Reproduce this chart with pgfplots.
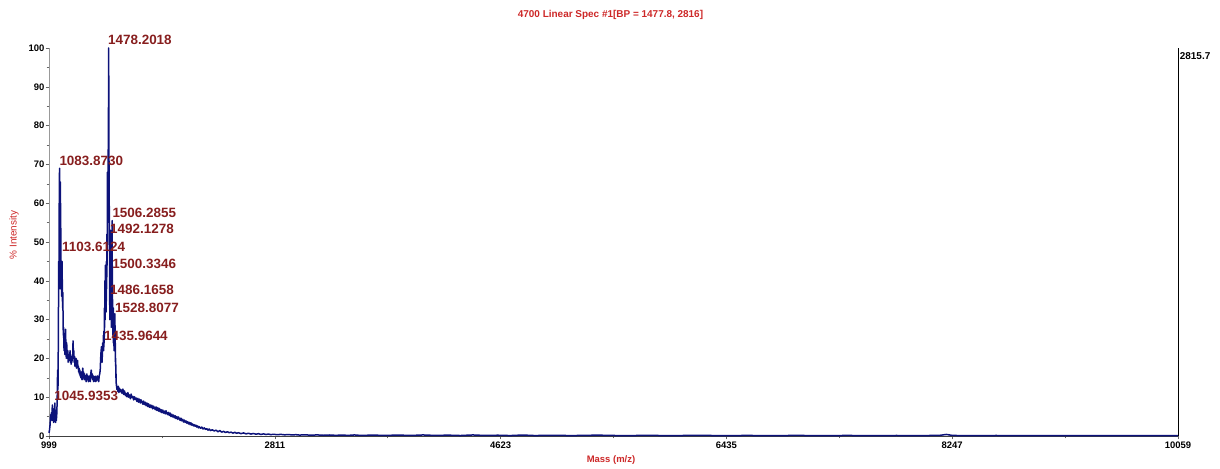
\documentclass[border=0pt]{standalone}
\usepackage{fontspec}
\setmainfont{Liberation Sans}
\usepackage{pgfplots}
\pgfplotsset{compat=1.18}
\definecolor{spec}{RGB}{12,18,122}
\definecolor{pklab}{RGB}{135,30,30}
\definecolor{ttl}{RGB}{205,40,40}
\begin{document}
\begin{tikzpicture}
\useasboundingbox (0,0) rectangle (1220bp,469bp);
\begin{axis}[
  at={(49bp,33bp)}, anchor=south west,
  scale only axis, width=1129bp, height=388bp,
  xmin=999, xmax=10059, ymin=0, ymax=100,
  clip=false,
  axis x line*=bottom, axis y line*=left,
  x axis line style={draw=black!75, -},
  y axis line style={draw=black!40, -},
  xtick={999,2811,4623,6435,8247,10059},
  xticklabels={999,2811,4623,6435,8247,10059},
  minor xtick={1905,3717,5529,7341,9153},
  ytick={0,10,...,100},
  minor ytick={5,15,...,95},
  tick align=outside,
  major tick length=3.5bp, minor tick length=2.5bp,
  tick style={draw=black!60, line width=0.5bp},
  /pgf/number format/assume math mode=true,
  tick label style={font=\fontsize{9.5}{10}\selectfont\bfseries, inner sep=1bp},
  xticklabel style={yshift=-1bp},
  scaled x ticks=false,
]
\addplot[spec, line width=1.5bp, line join=round] coordinates {
(999,0.8)(1003,1.5)(1008,3)(1012,5.5)(1015,4)(1019,6)(1022,5)(1026,8)(1029,4)(1033,7)(1036,3.5)(1040,4)(1043,6)(1046,8.5)(1049,4)(1052,3.5)(1055,5)(1058,4)(1062,6)(1065,10)(1068,17)(1071,12)(1074,25)(1077,45)(1079,38)(1080,60)(1081,52)(1082,66)(1084,69)(1085,42)(1086,50)(1087,38)(1088,48)(1089,58)(1090,65.5)(1091,50)(1092,60)(1094,50)(1096,38)(1098,41)(1100,36)(1102,44)(1104,45)(1106,38)(1108,33)(1110,37)(1112,30)(1114,26)(1116,28)(1118,24)(1120,22)(1123,26)(1126,21)(1129,23)(1132,27.5)(1135,22)(1138,20)(1141,24)(1144,21)(1147,20)(1150,22)(1153,19)(1156,21)(1159,19.5)(1162,21)(1165,20)(1168,22)(1171,19)(1174,20.5)(1177,18.5)(1180,20)(1183,19)(1186,21)(1189,20)(1192,24.5)(1195,21)(1198,22)(1201,19)(1204,20.5)(1207,18)(1210,20)(1213,19)(1216,20)(1219,17.5)(1222,19)(1225,18)(1228,19.5)(1231,17.5)(1234,18)(1237,16.5)(1240,17.5)(1243,16)(1246,17)(1249,15.5)(1252,16)(1255,15)(1258,16.5)(1261,15)(1264,14.5)(1267,16)(1270,17.5)(1273,15)(1276,16.5)(1279,15)(1282,14.5)(1285,16)(1288,15)(1291,14.5)(1294,15.5)(1297,14)(1300,15)(1303,16)(1306,15)(1309,14.5)(1312,15.5)(1315,14)(1318,15)(1321,14.5)(1324,15)(1327,15.5)(1330,14)(1334,16)(1338,17)(1342,15)(1346,16)(1350,14.5)(1354,15.5)(1358,14)(1362,15)(1366,14.2)(1370,15.4)(1374,14)(1378,15)(1382,14.3)(1386,15.5)(1390,14.5)(1394,15.2)(1398,14)(1402,15.5)(1406,16)(1410,17)(1415,21)(1420,23)(1425,19)(1430,24)(1433,22)
(1436,26)(1438,22)(1440,27)(1442,24)(1444,33)(1446,28)(1448,40)(1450,30)(1452,44)(1454,35)(1456,42)(1458,32)(1460,45)(1462,38)(1464,52)(1466,44)(1468,68)(1470,55)(1472,66)(1474,72)(1476,80)(1477,90)(1478,100)(1479,85)(1480,81)(1481,60)(1482,70)(1483,48)(1484,55)(1485,40)(1486,37.5)(1487,30)(1488,45)(1489,35)(1490,50)(1491,40)(1492,53)(1493,38)(1494,47)(1495,35)(1496,40)(1497,30)(1498,35)(1499,28)(1500,44)(1501,32)(1502,38)(1503,30)(1504,50)(1505,38)(1506,55.5)(1507,35)(1508,42)(1509,30)(1510,35)(1512,26)(1513,30)(1515,24)(1516,33)(1518,24)(1519,28)(1521,22)(1522,26)(1524,22)(1525,29)(1527,24)(1528,31.5)(1530,22)(1531,24)(1533,18)(1534,20)(1536,15)(1537,16)(1539,13)(1540,13.5)(1544,12)(1548,12.5)(1552,11.5)(1556,12.8)(1560,11.2)
(1565,12.3)(1572,11.4)(1578,11.9)(1585,11.0)(1592,12.1)(1598,10.7)(1605,11.6)(1612,10.4)(1618,11.0)(1625,10.1)(1632,11.2)(1638,10.0)(1645,10.6)(1652,9.6)(1658,10.8)(1665,9.9)(1672,10.2)(1678,9.3)(1685,10.1)(1692,9.4)(1698,9.8)(1705,8.9)(1712,9.7)(1718,8.7)(1725,9.5)(1732,8.5)(1738,9.3)(1745,8.8)(1752,8.2)(1758,9.0)(1765,8.1)(1772,8.7)(1778,7.8)(1785,8.5)(1792,7.6)(1798,8.3)(1805,7.4)(1812,8.0)(1818,7.3)(1825,7.9)(1832,7.0)(1838,7.7)(1845,7.2)(1852,6.8)(1858,7.5)(1865,6.6)(1872,7.3)(1878,6.4)(1885,7.1)(1892,6.2)(1898,6.8)(1905,6.0)(1912,6.7)(1918,5.9)(1925,6.4)(1932,5.7)(1938,6.5)(1945,5.8)(1952,5.5)(1958,6.1)(1965,5.3)(1972,5.9)(1978,5.0)(1985,5.6)(1992,4.9)(1998,5.4)(2005,4.7)(2012,5.2)(2018,4.5)(2025,5.0)(2032,4.3)(2038,4.9)(2045,4.4)(2052,4.0)(2058,4.6)(2065,3.9)(2072,4.3)(2078,3.6)(2085,4.1)(2092,3.5)(2098,3.9)(2105,3.3)(2112,3.7)(2118,3.1)(2125,3.5)(2132,2.9)(2138,3.4)(2145,2.8)(2152,3.1)(2158,2.6)(2165,2.9)(2172,2.5)(2178,2.8)(2185,2.3)(2192,2.6)(2198,2.1)(2205,2.4)(2215,2.0)(2225,2.3)(2235,1.8)(2245,2.1)(2255,1.7)(2265,1.9)(2275,1.5)(2285,1.8)(2295,1.4)(2310,1.6)(2325,1.3)(2340,1.5)(2355,1.1)(2370,1.4)(2385,1.0)(2400,1.2)(2415,0.9)(2430,1.1)(2445,0.85)(2460,1.0)(2475,0.75)(2490,0.95)(2505,0.7)(2520,0.85)(2540,0.6)(2560,0.8)(2580,0.55)(2600,0.7)(2620,0.5)(2640,0.65)(2660,0.45)(2680,0.6)(2700,0.4)(2720,0.55)(2740,0.38)(2760,0.5)(2780,0.35)(2800,0.45)(2830,0.33)(2860,0.42)(2890,0.3)(2920,0.38)(2950,0.27)(2980,0.34)(3010,0.24)(3050,0.31)(3100,0.21)(3150,0.28)(3200,0.19)(3250,0.26)(3300,0.17)(3350,0.24)(3400,0.16)(3450,0.27)(3500,0.15)(3600,0.23)(3700,0.14)(3800,0.25)(3900,0.13)(4000,0.27)(4100,0.14)(4200,0.22)(4300,0.12)(4400,0.27)(4500,0.13)(4600,0.2)(4700,0.11)(4800,0.25)(4900,0.11)(5000,0.18)(5200,0.11)(5400,0.22)(5600,0.09)(5800,0.16)(6000,0.09)(6200,0.18)(6400,0.09)(6600,0.14)(6800,0.09)(7000,0.15)(7200,0.08)(7400,0.14)(7600,0.09)(7800,0.13)(8000,0.09)(8150,0.18)(8200,0.4)(8250,0.14)(8400,0.09)(8600,0.13)(8800,0.08)(9000,0.11)(9200,0.07)(9400,0.11)(9600,0.07)(9800,0.09)(10059,0.07)
};
\draw[black, line width=0.6bp] (rel axis cs:1,0) -- (rel axis cs:1,1);
\node[anchor=west, inner sep=0pt, font=\fontsize{10}{11}\selectfont\bfseries] at (rel axis cs:1,0.98) {\,2815.7};
\begin{scope}[every node/.style={anchor=west, inner sep=0pt, text=pklab, font=\fontsize{13.5}{14}\selectfont\bfseries}]
\node at (axis cs:1472,102.1) {1478.2018};
\node at (axis cs:1081.7,70.9) {1083.8730};
\node at (axis cs:1507,57.5) {1506.2855};
\node at (axis cs:1488.5,53.4) {1492.1278};
\node at (axis cs:1103.3,48.7) {1103.6124};
\node at (axis cs:1506.5,44.3) {1500.3346};
\node at (axis cs:1488.5,37.6) {1486.1658};
\node at (axis cs:1528.6,32.9) {1528.8077};
\node at (axis cs:1440,25.8) {1435.9644};
\node at (axis cs:1041.5,10.3) {1045.9353};
\end{scope}
\end{axis}
\node[text=ttl, font=\fontsize{10}{11}\selectfont\bfseries] at (610.5bp,454bp) {4700 Linear Spec \#1[BP = 1477.8, 2816]};
\node[text=ttl, font=\fontsize{10}{11}\selectfont, rotate=90] at (14bp,234bp) {\% Intensity};
\node[text=ttl, font=\fontsize{9.5}{10}\selectfont\bfseries] at (611bp,9bp) {Mass (m/z)};
\end{tikzpicture}
\end{document}
